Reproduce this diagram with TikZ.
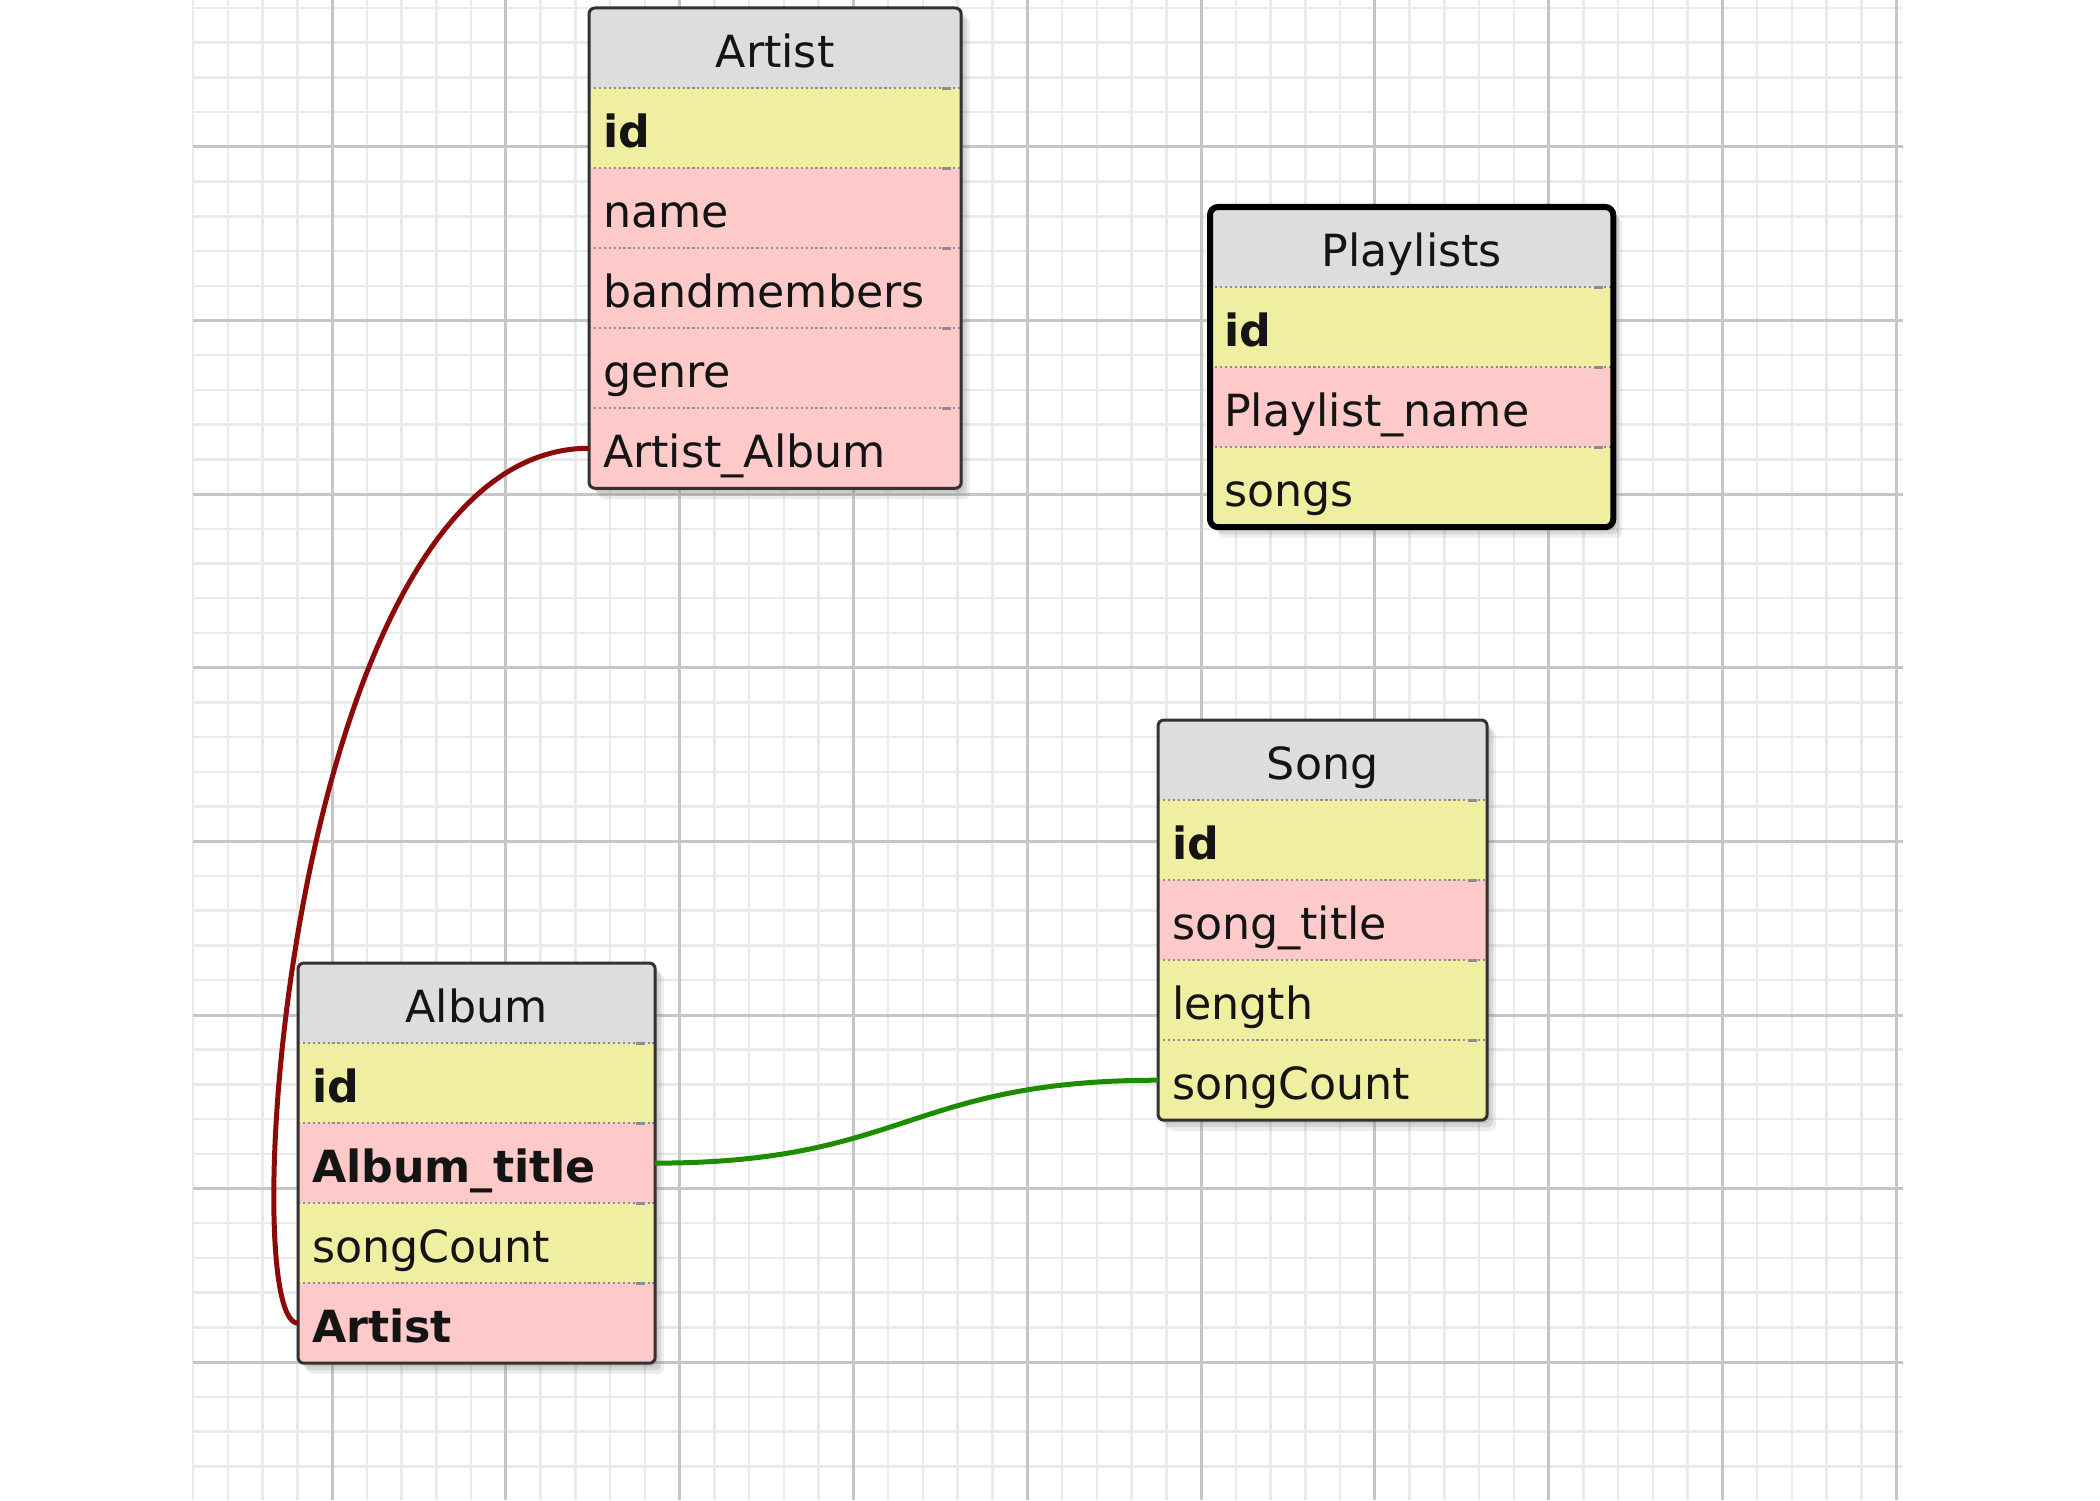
\documentclass[tikz,border=0pt]{standalone}
\usepackage{fontspec}
\newfontfamily\tbfont{DejaVu Sans}
\usetikzlibrary{positioning,shadows,backgrounds}

\definecolor{gridminor}{RGB}{234,234,234}
\definecolor{gridmajor}{RGB}{198,198,198}
\definecolor{headgray}{RGB}{221,221,221}
\definecolor{rowyellow}{RGB}{240,238,160}
\definecolor{rowpink}{RGB}{253,201,201}
\definecolor{framedark}{RGB}{50,50,50}
\definecolor{sepgray}{RGB}{140,140,150}
\definecolor{reldarkred}{RGB}{140,10,10}
\definecolor{relgreen}{RGB}{30,140,0}
\definecolor{textdark}{RGB}{20,20,20}

\tikzset{
  cell/.style={minimum height=0.8cm, inner xsep=0.14cm, inner ysep=0pt, outer sep=0pt,
    text height=11pt, text depth=0.2pt, text=textdark,
    font=\tbfont\fontsize{12.6}{15}\selectfont},
  tbhead/.style={cell, fill=headgray, align=center},
  yrow/.style={cell, fill=rowyellow, align=left},
  prow/.style={cell, fill=rowpink, align=left},
  tbsep/.style={sepgray, line width=0.25mm, dash pattern=on 0.6pt off 0.8pt},
  tbsepend/.style={sepgray, line width=0.3mm},
  tbframe/.style={draw=framedark, line width=0.3mm, rounded corners=0.6mm},
  tbselected/.style={draw=black, line width=0.6mm, rounded corners=0.8mm},
  tbshadow/.style={rounded corners=0.6mm,
    drop shadow={shadow xshift=0.3mm, shadow yshift=-0.35mm, opacity=0.2},
    drop shadow={shadow xshift=0.6mm, shadow yshift=-0.7mm, opacity=0.2},
    drop shadow={shadow xshift=0.9mm, shadow yshift=-1.05mm, opacity=0.14}},
  minorline/.style={draw=gridminor, line width=0.25mm},
  majorline/.style={draw=gridmajor, line width=0.3mm},
  relation/.style={line width=0.5mm},
}

\begin{document}
\begin{tikzpicture}[x=0.01cm, y=-0.01cm]
\useasboundingbox (0,0) rectangle (2100,1500);

% grid
\begin{scope}[on background layer]
\foreach \i in {0,...,49}
  \draw[minorline] ({193+\i*34.76},0) -- ({193+\i*34.76},1500);
\foreach \j in {0,...,42}
  \draw[minorline] (193,{8+\j*34.72}) -- (1903,{8+\j*34.72});
\foreach \i in {0,...,9}
  \draw[majorline] ({332+\i*173.8},0) -- ({332+\i*173.8},1500);
\foreach \j in {0,...,7}
  \draw[majorline] (193,{147+\j*173.6}) -- (1903,{147+\j*173.6});
\end{scope}

% Artist
\begin{scope}[nodes={text width=3.44cm}]
\node[tbhead, anchor=north west] (artist) at (589,8) {Artist};
\node[yrow, below=0pt of artist] (artistId) {\textbf{id}};
\node[prow, below=0pt of artistId] (artistName) {name};
\node[prow, below=0pt of artistName] (artistBand) {bandmembers};
\node[prow, below=0pt of artistBand] (artistGenre) {genre};
\node[prow, below=0pt of artistGenre] (artistAlbum) {Artist\_Album};
\end{scope}
\foreach \r in {artistId,artistName,artistBand,artistGenre,artistAlbum} {
  \draw[tbsep] (\r.north west) -- (\r.north east);
  \draw[tbsepend] ([xshift=-1.9mm]\r.north east) -- ++(9,0);
}
\draw[tbframe] (artist.north west) rectangle (artistAlbum.south east);
\begin{scope}[on background layer]
\path[tbshadow] (artist.north west) rectangle (artistAlbum.south east);
\end{scope}

% Playlists
\begin{scope}[nodes={text width=3.75cm}]
\node[tbhead, anchor=north west] (playlists) at (1210,207) {Playlists};
\node[yrow, below=0pt of playlists] (playlistsId) {\textbf{id}};
\node[prow, below=0pt of playlistsId] (playlistsName) {Playlist\_name};
\node[yrow, below=0pt of playlistsName] (playlistsSongs) {songs};
\end{scope}
\foreach \r in {playlistsId,playlistsName,playlistsSongs} {
  \draw[tbsep] (\r.north west) -- (\r.north east);
  \draw[tbsepend] ([xshift=-1.9mm]\r.north east) -- ++(9,0);
}
\draw[tbselected] (playlists.north west) rectangle (playlistsSongs.south east);
\begin{scope}[on background layer]
\path[tbshadow] (playlists.north west) rectangle (playlistsSongs.south east);
\end{scope}

% Song
\begin{scope}[nodes={text width=3.01cm}]
\node[tbhead, anchor=north west] (song) at (1158,720) {Song};
\node[yrow, below=0pt of song] (songId) {\textbf{id}};
\node[prow, below=0pt of songId] (songTitle) {song\_title};
\node[yrow, below=0pt of songTitle] (songLength) {length};
\node[yrow, below=0pt of songLength] (songCount) {songCount};
\end{scope}
\foreach \r in {songId,songTitle,songLength,songCount} {
  \draw[tbsep] (\r.north west) -- (\r.north east);
  \draw[tbsepend] ([xshift=-1.9mm]\r.north east) -- ++(9,0);
}
\draw[tbframe] (song.north west) rectangle (songCount.south east);
\begin{scope}[on background layer]
\path[tbshadow] (song.north west) rectangle (songCount.south east);
\end{scope}

% Album
\begin{scope}[nodes={text width=3.29cm}]
\node[tbhead, anchor=north west] (album) at (298,963) {Album};
\node[yrow, below=0pt of album] (albumId) {\textbf{id}};
\node[prow, below=0pt of albumId] (albumTitle) {\textbf{Album\_title}};
\node[yrow, below=0pt of albumTitle] (albumCount) {songCount};
\node[prow, below=0pt of albumCount] (albumArtist) {\textbf{Artist}};
\end{scope}
\foreach \r in {albumId,albumTitle,albumCount,albumArtist} {
  \draw[tbsep] (\r.north west) -- (\r.north east);
  \draw[tbsepend] ([xshift=-1.9mm]\r.north east) -- ++(9,0);
}
\draw[tbframe] (album.north west) rectangle (albumArtist.south east);
\begin{scope}[on background layer]
\path[tbshadow] (album.north west) rectangle (albumArtist.south east);
\end{scope}

% relations
\draw[relation, reldarkred] (artistAlbum.west) .. controls +(-300,0) and +(-65,0) .. (albumArtist.west);
\draw[relation, relgreen] (albumTitle.east) .. controls +(250,0) and +(-250,0) .. (songCount.west);
\end{tikzpicture}
\end{document}
